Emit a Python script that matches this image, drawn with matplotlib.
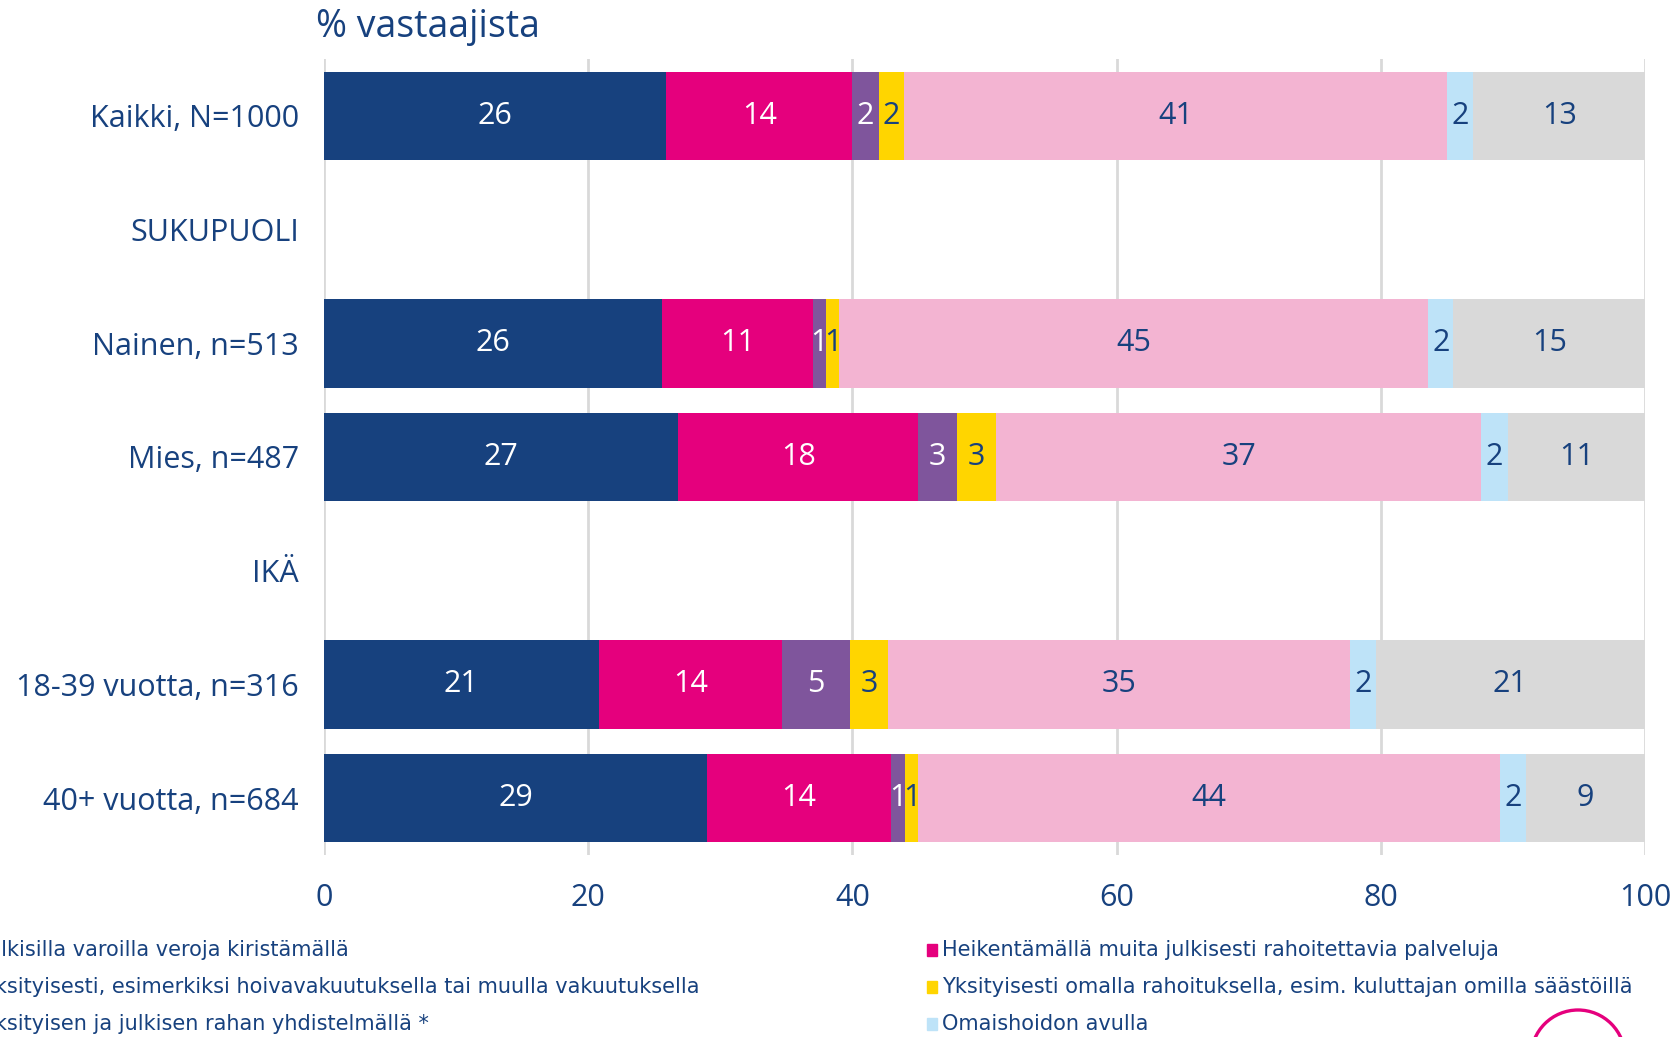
import matplotlib.pyplot as plt
from matplotlib.patches import Rectangle, Ellipse

# rows of the chart (two of them are only group headings)
rows = ["Kaikki, N=1000", "SUKUPUOLI", "Nainen, n=513", "Mies, n=487",
        "IKÄ", "18-39 vuotta, n=316", "40+ vuotta, n=684"]
groups = ["Kaikki, N=1000", "Nainen, n=513", "Mies, n=487",
          "18-39 vuotta, n=316", "40+ vuotta, n=684"]

# % of respondents, per answer, in order of groups
verot = [25.9, 25.6, 26.8, 20.8, 29.0]
heikentamalla = [14.1, 11.4, 18.2, 13.9, 13.9]
vakuutus = [2.0, 1.0, 2.9, 5.1, 1.1]
omat_saastot = [1.9, 1.0, 3.0, 2.9, 1.0]
yhdistelma = [41.1, 44.6, 36.7, 35.0, 44.0]
omaishoito = [2.0, 1.9, 2.0, 1.9, 2.0]
eos = [13.0, 14.7, 10.6, 20.6, 9.0]

series_names = [
    "Julkisilla varoilla veroja kiristämällä",
    "Heikentämällä muita julkisesti rahoitettavia palveluja",
    "Yksityisesti, esimerkiksi hoivavakuutuksella tai muulla vakuutuksella",
    "Yksityisesti omalla rahoituksella, esim. kuluttajan omilla säästöillä",
    "Yksityisen ja julkisen rahan yhdistelmällä *",
    "Omaishoidon avulla",
    "En osaa sanoa",
]
series = [verot, heikentamalla, vakuutus, omat_saastot, yhdistelma, omaishoito, eos]

colors = ["#17417E", "#E5007D", "#7F559C", "#FFD500", "#F3B4D2", "#BEE3F8", "#D9D9D9"]
label_colors = ["white", "white", "white", "#17417E", "#17417E", "#17417E", "#17417E"]
navy = "#17417E"

plt.rcParams['font.family'] = ['Open Sans', 'DejaVu Sans']

fig = plt.figure(figsize=(16.78, 10.37), dpi=100)
ax = fig.add_axes([324 / 1678, 1 - 855 / 1037, 1321 / 1678, 796 / 1037])

ypos = [rows.index(g) for g in groups]
left = [0.0] * len(groups)
for vals, col, tcol in zip(series, colors, label_colors):
    bars = ax.barh(ypos, vals, left=left, height=0.78, color=col, zorder=2)
    labels = [f"{v:.0f}" for v in vals]
    ax.bar_label(bars, labels=labels, label_type='center', color=tcol, fontsize=22)
    left = [l + v for l, v in zip(left, vals)]

ax.set_ylim(6.5, -0.5)
ax.set_xlim(0, 100)
ax.set_yticks(range(len(rows)))
ax.set_yticklabels(rows, fontsize=22, color=navy)
ax.set_xticks([0, 20, 40, 60, 80, 100])
ax.tick_params(axis='x', length=0, pad=20, labelsize=22, labelcolor=navy)
ax.tick_params(axis='y', length=0, pad=18)
ax.grid(axis='x', color="#D9D9D9", linewidth=2, zorder=0)
for s in ax.spines.values():
    s.set_visible(False)

fig.text(316 / 1678, 1 - 27 / 1037, "% vastaajista", fontsize=27, color=navy,
         ha='left', va='center')

# legend, two columns, left column runs off the page edge
col_x = [-18, 942]
row_y = [950, 987, 1024, 1061]
for i, (name, col) in enumerate(zip(series_names, colors)):
    cx = col_x[i % 2]
    cy = row_y[i // 2]
    fig.patches.append(Rectangle(((cx - 15) / 1678, 1 - (cy + 6) / 1037), 10 / 1678, 12 / 1037,
                                 transform=fig.transFigure, color=col))
    fig.text(cx / 1678, 1 - cy / 1037, name, fontsize=15, color=navy,
             ha='left', va='center', family=['Liberation Sans Narrow', 'DejaVu Sans'])

# logo ring at bottom right corner
fig.patches.append(Ellipse((1578 / 1678, 1 - 1057 / 1037), 94 / 1678, 94 / 1037,
                           transform=fig.transFigure, fill=False, edgecolor="#E5007D", linewidth=2.4))

fig.savefig("out.png", dpi=100)
